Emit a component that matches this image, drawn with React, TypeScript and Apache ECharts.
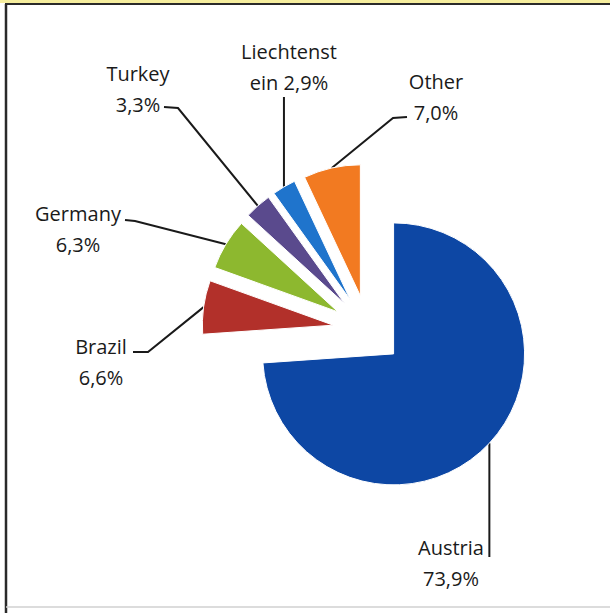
import React, { useEffect, useRef } from "react";
import * as echarts from "echarts";

const countries = ["Austria", "Brazil", "Germany", "Turkey", "Liechtenstein", "Other"];
const shares = [73.9, 6.6, 6.3, 3.3, 2.9, 7.0];
const colors = ["#0d47a4", "#b2302a", "#8db82f", "#5a4a8d", "#1f74cc", "#f27a21"];

// label layout (centres of text blocks) and leader-line geometry
const labelCenters: number[][] = [[451, 563], [101, 362], [78, 229], [138, 89], [289, 67], [436, 97]];
const leaderElbows: (number[] | null)[] = [null, [148, 352], [135, 221], [178, 108], null, [393, 118]];
const leaderEnds: number[][] = [[0, 557], [133, 352], [125, 220], [164, 107], [0, 97], [407, 117]];

const PIE_CENTER = [368, 330];
const PIE_RADIUS = 131;
const EXPLODE = 35;

function fmtLabel(name: string, value: number): string {
  const pct = value.toFixed(1).replace(".", ",") + "%";
  if (name.length > 10) return `${name.slice(0, 10)}\n${name.slice(10)} ${pct}`;
  return `${name}\n${pct}`;
}

export default function App() {
  const ref = useRef<HTMLDivElement>(null);
  useEffect(() => {
    if (!ref.current) return;
    const chart = echarts.init(ref.current, null, { renderer: "svg" });
    const total = shares.reduce((a, b) => a + b, 0);
    let cum = 0;
    const series = countries.map((_, k) => {
      const mid = ((cum + shares[k] / 2) / total) * Math.PI * 2;
      cum += shares[k];
      const center = [PIE_CENTER[0] + EXPLODE * Math.sin(mid), PIE_CENTER[1] - EXPLODE * Math.cos(mid)];
      return {
        type: "pie",
        center,
        radius: PIE_RADIUS,
        startAngle: 90,
        clockwise: true,
        avoidLabelOverlap: false,
        silent: true,
        emphasis: { disabled: true },
        label: {
          show: true,
          position: "outside",
          fontFamily: "Open Sans",
          fontSize: 20,
          lineHeight: 31,
          color: "#1a1a1a",
          align: "center",
          formatter: (p: any) => fmtLabel(p.name, p.value),
        },
        labelLine: { show: true, length: 30, length2: 10, lineStyle: { color: "#1a1a1a", width: 2 } },
        labelLayout: (params: any) => {
          const i = params.dataIndex;
          if (i !== k) return {};
          const s = params.labelLinePoints ? params.labelLinePoints[0] : null;
          const c = labelCenters[i];
          const res: any = { x: c[0], y: c[1], align: "center", verticalAlign: "middle" };
          if (s) {
            const elbow = leaderElbows[i];
            const end = leaderEnds[i];
            res.labelLinePoints = elbow
              ? [s, elbow, end]
              : [s, [s[0], (s[1] + end[1]) / 2], [s[0], end[1]]];
          }
          return res;
        },
        data: countries.map((name, i) => ({
          name,
          value: shares[i],
          itemStyle: i === k
            ? { color: colors[i], borderColor: "#ffffff", borderWidth: 1 }
            : { color: "rgba(0,0,0,0)", borderWidth: 0 },
          label: { show: i === k },
          labelLine: { show: i === k },
        })),
      };
    });
    chart.setOption({
      animation: false,
      backgroundColor: "#ffffff",
      graphic: [
        { type: "rect", shape: { x: 0, y: 0, width: 610, height: 3 }, style: { fill: "#f6ee9e" }, silent: true },
        { type: "line", shape: { x1: 5, y1: 4, x2: 610, y2: 4 }, style: { stroke: "#2a2a2a", lineWidth: 2 }, silent: true },
        { type: "line", shape: { x1: 6, y1: 4, x2: 6, y2: 613 }, style: { stroke: "#2a2a2a", lineWidth: 2.5 }, silent: true },
        { type: "line", shape: { x1: 6, y1: 607, x2: 610, y2: 607 }, style: { stroke: "#d0d0d0", lineWidth: 1.5 }, silent: true },
      ],
      series,
    });
    return () => chart.dispose();
  }, []);
  return <div ref={ref} style={{ position: "absolute", left: 0, top: 0, width: 610, height: 613 }} />;
}
